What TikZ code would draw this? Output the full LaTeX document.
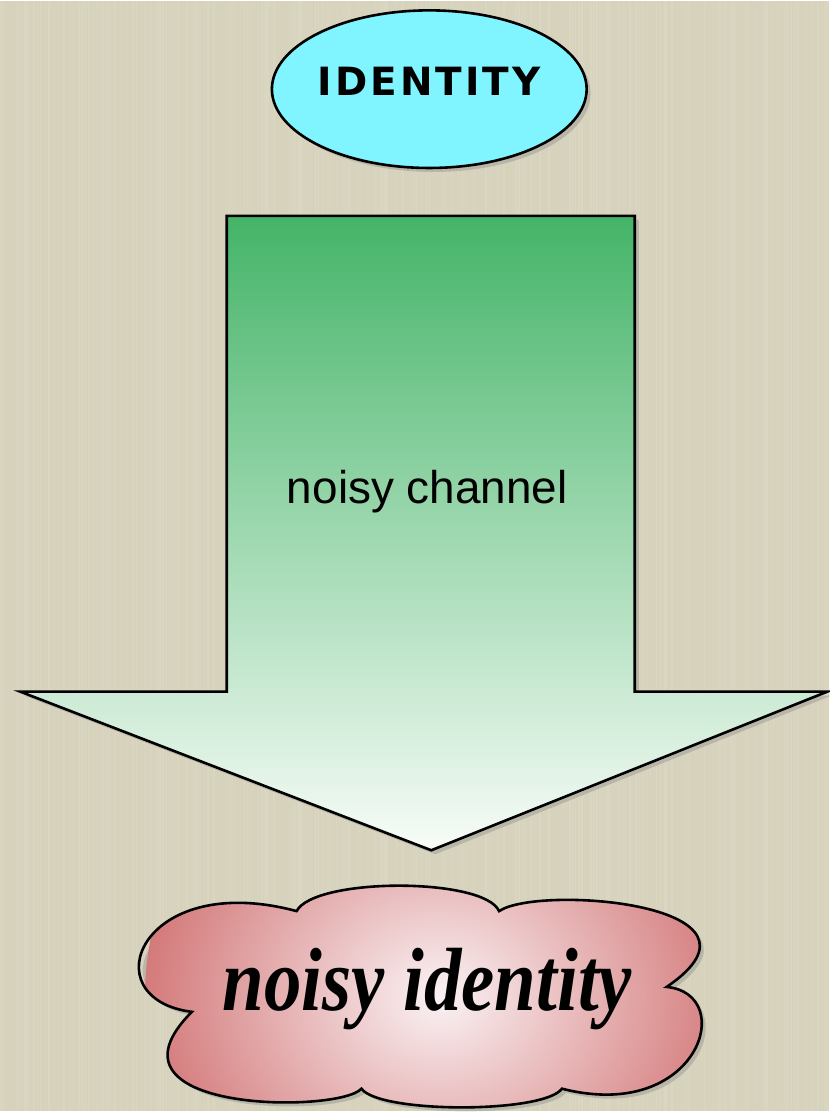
\documentclass[tikz,border=0pt]{standalone}
\usepackage{fontspec}
\usepackage{graphicx}
\usepackage{tikz}
\usetikzlibrary{shapes.geometric,shadows,positioning}

\newfontfamily\chanfont{Liberation Sans}
\newfontfamily\blobfont{Liberation Serif}
\newfontfamily\idfont{DejaVu Sans}

\definecolor{paper}{RGB}{214,210,188}
\definecolor{idfill}{RGB}{128,244,255}
\definecolor{chantop}{RGB}{68,180,104}
\definecolor{chanbot}{RGB}{248,252,248}
\definecolor{blobin}{RGB}{250,242,244}
\definecolor{blobout}{RGB}{205,100,100}

\begin{document}
\begin{tikzpicture}[x=1pt, y=-1pt,
    outline/.style={draw=black, line width=2.6pt, line join=miter},
    shadowed/.style={drop shadow={shadow xshift=4pt, shadow yshift=-4pt, opacity=.35}},
    idnode/.style={ellipse, outline, shadowed, fill=idfill, minimum width=296pt, minimum height=158pt, inner sep=0pt, text depth=15pt,
      font=\idfont\bfseries\fontsize{39}{44}\selectfont}
]
% paper background with faint vertical grain
\fill[paper] (0,0) rectangle (831,1112);
\pgfmathsetseed{11}
\foreach \i in {0,...,276} {
  \pgfmathsetmacro\o{rnd*0.11}
  \pgfmathsetmacro\w{0.8+rnd*2}
  \draw[white, opacity=\o, line width=\w pt] (\i*3+1,0) -- (\i*3+1,1112);
}
\useasboundingbox (0,0) rectangle (831,1112);

% source
\node[idnode] (identity) at (430,88) {I\kern3pt D\kern3pt E\kern3pt N\kern3pt T\kern3pt I\kern3pt T\kern3pt Y};

% the channel arrow
\path[outline, shadowed, top color=chantop, bottom color=chanbot]
  (227,215) -- (636,215) -- (636,692) -- (829,692) -- (432,851)
  -- (20,692) -- (227,692) -- cycle;
\node[anchor=base] (channel) at (428,503) {\chanfont\fontsize{46}{50}\selectfont noisy channel};

% output cloud
\path[outline, shadowed, path picture={
    \shade[inner color=blobin, outer color=blobout] (path picture bounding box.center) circle (295);}]
  (192,1013) .. controls (90,1000) and (140,870) .. (297,912)
  .. controls (315,878) and (485,878) .. (500,912)
  .. controls (540,885) and (790,905) .. (668,988)
  .. controls (740,995) and (700,1125) .. (563,1090)
  .. controls (545,1115) and (380,1115) .. (362,1090)
  .. controls (340,1115) and (90,1115) .. cycle;
\node[anchor=base] (output) at (428,1012) {\blobfont\bfseries\itshape\fontsize{75}{80}\selectfont\scalebox{1}[1.2]{noisy identity}};
\end{tikzpicture}
\end{document}
